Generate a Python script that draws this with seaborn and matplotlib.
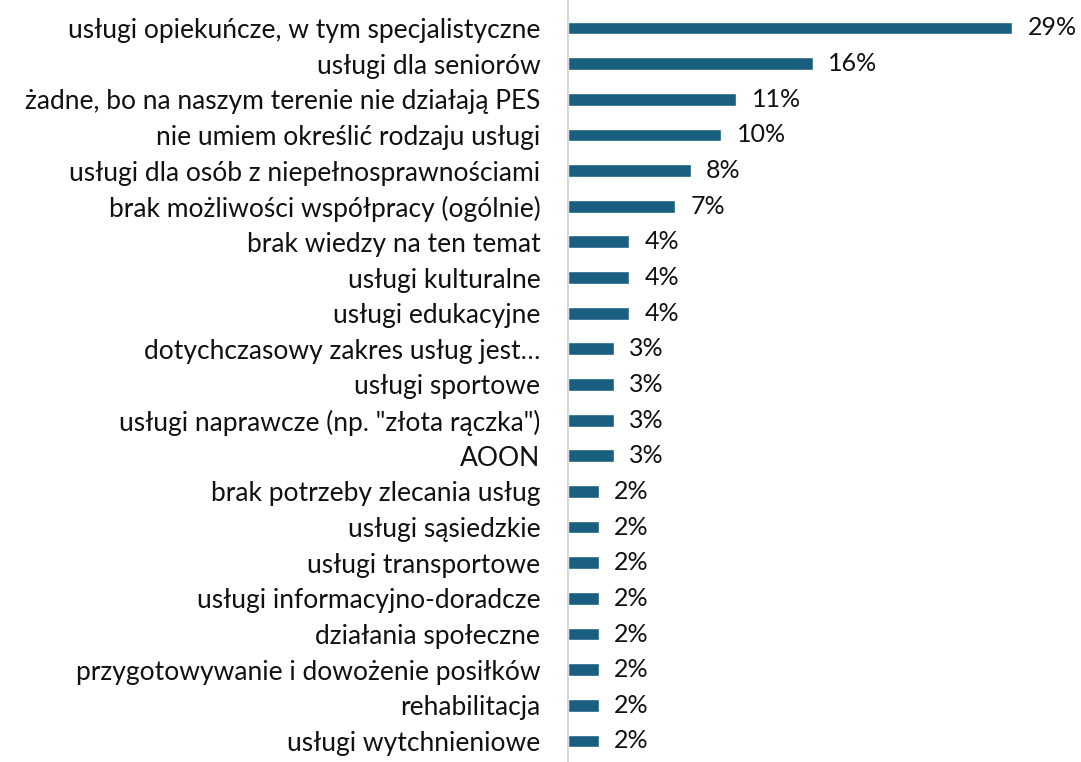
import matplotlib
matplotlib.use("Agg")
import matplotlib.pyplot as plt
import seaborn as sns
import pandas as pd

# Data
categories = [
    "usługi opiekuńcze, w tym specjalistyczne",
    "usługi dla seniorów",
    "żadne, bo na naszym terenie nie działają PES",
    "nie umiem określić rodzaju usługi",
    "usługi dla osób z niepełnosprawnościami",
    "brak możliwości współpracy (ogólnie)",
    "brak wiedzy na ten temat",
    "usługi kulturalne",
    "usługi edukacyjne",
    "dotychczasowy zakres usług jest…",
    "usługi sportowe",
    "usługi naprawcze (np. \"złota rączka\")",
    "AOON",
    "brak potrzeby zlecania usług",
    "usługi sąsiedzkie",
    "usługi transportowe",
    "usługi informacyjno-doradcze",
    "działania społeczne",
    "przygotowywanie i dowożenie posiłków",
    "rehabilitacja",
    "usługi wytchnieniowe",
]
values = [29, 16, 11, 10, 8, 7, 4, 4, 4, 3, 3, 3, 3, 2, 2, 2, 2, 2, 2, 2, 2]

df = pd.DataFrame({"category": categories, "value": values})

sns.set_style("white")
plt.rcParams["font.family"] = ["Lato", "DejaVu Sans"]

fig = plt.figure(figsize=(10.81, 7.62), dpi=100)
ax = fig.add_axes([0.5255, 0.0, 0.4745, 1.0])

sns.barplot(data=df, x="value", y="category", orient="h", color="#1a5f80",
            width=0.36, saturation=1, ax=ax)

ax.bar_label(ax.containers[0], fmt="%d%%", padding=11, fontsize=18, color="#111111")

ax.set_xlim(0, 33.5)
ax.set_ylim(20.59, -0.785)
ax.set_xlabel("")
ax.set_ylabel("")
ax.set_xticks([])
ax.tick_params(axis="y", length=0, pad=20, labelsize=19, labelcolor="#111111")
for side in ["top", "right", "bottom"]:
    ax.spines[side].set_visible(False)
ax.spines["left"].set_color("#d9d9d9")
ax.spines["left"].set_linewidth(1.5)

fig.savefig("out.png", dpi=100)
